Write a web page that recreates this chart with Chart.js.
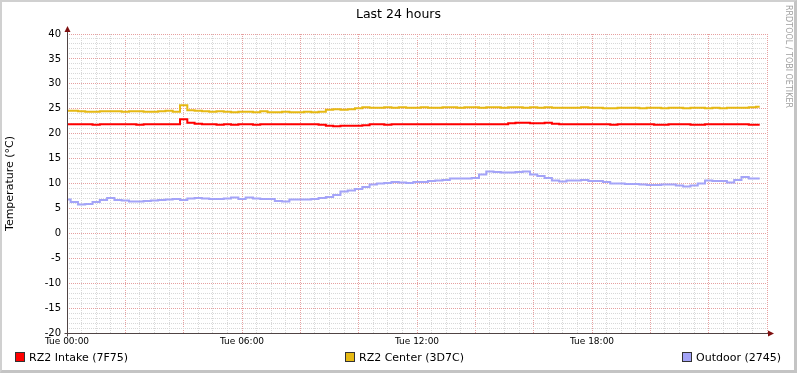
<!DOCTYPE html>
<html>
<head>
<meta charset="utf-8">
<script src="https://cdn.jsdelivr.net/npm/chart.js@4"></script>
<style>
  body { margin: 0; background: #fff; }
  #wrap { position: relative; width: 797px; height: 373px; background: #fff;
          font-family: "DejaVu Sans", sans-serif; color: #000; overflow: hidden; }
  #frame { position: absolute; left: 0; top: 0; width: 797px; height: 373px; box-sizing: border-box;
           border-top: 2px solid #d0d0d0; border-left: 2px solid #d0d0d0;
           border-right: 3px solid #c4c4c4; border-bottom: 3px solid #c4c4c4; pointer-events: none; }
  #title { position: absolute; left: 0; width: 797px; top: 6px; text-align: center; font-size: 12.5px; }
  #stamp { position: absolute; left: 784px; top: 5px; font-size: 8px; color: #a0a0a0;
           writing-mode: vertical-rl; white-space: nowrap; }
  .leg { position: absolute; top: 351px; font-size: 11px; white-space: nowrap; line-height: 14px; }
  .leg span { display: inline-block; width: 8px; height: 8px; border: 1px solid #333;
              vertical-align: -1px; margin-right: 4px; }
</style>
</head>
<body>
<div id="wrap">
  <canvas id="tempChart" width="797" height="373"></canvas>
  <div id="title">Last 24 hours</div>
  <div id="stamp">RRDTOOL / TOBI OETIKER</div>
  <div id="legend"></div>
  <div id="frame"></div>
</div>
<script>
// samples every 15 minutes, starting Tue 00:00
const stepHours = 0.25;

const seriesNames = ['RZ2 Intake (7F75)', 'RZ2 Center (3D7C)', 'Outdoor (2745)'];
const seriesColors = ['#ff0000', '#e6b914', '#a4a4f8'];

const intake = [
  21.9, 21.9, 21.9, 21.9, 21.8, 21.9, 21.9, 21.9, 21.9, 21.9, 21.8, 21.9, 21.9, 21.9, 21.9, 21.9,
  22.9, 22.2, 22.0, 21.9, 21.9, 21.8, 21.9, 21.8, 21.9, 21.9, 21.8, 21.9, 21.9, 21.9, 21.9, 21.9,
  21.9, 21.9, 21.9, 21.8, 21.6, 21.5, 21.6, 21.6, 21.6, 21.7, 21.9, 21.9, 21.8, 21.9, 21.9, 21.9,
  21.9, 21.9, 21.9, 21.9, 21.9, 21.9, 21.9, 21.9, 21.9, 21.9, 21.9, 21.9, 21.9, 22.1, 22.2, 22.2,
  22.1, 22.1, 22.2, 22.0, 21.9, 21.9, 21.9, 21.9, 21.9, 21.9, 21.9, 21.8, 21.9, 21.9, 21.9, 21.9,
  21.9, 21.8, 21.8, 21.9, 21.9, 21.9, 21.8, 21.8, 21.9, 21.9, 21.9, 21.9, 21.9, 21.9, 21.8, 21.8
];

const center = [
  24.6, 24.6, 24.5, 24.4, 24.4, 24.5, 24.5, 24.5, 24.4, 24.5, 24.5, 24.4, 24.4, 24.5, 24.6, 24.4,
  25.7, 24.7, 24.6, 24.5, 24.4, 24.5, 24.4, 24.3, 24.4, 24.4, 24.3, 24.5, 24.3, 24.3, 24.4, 24.3,
  24.3, 24.4, 24.3, 24.4, 24.8, 24.9, 24.8, 24.9, 25.1, 25.3, 25.2, 25.2, 25.3, 25.2, 25.3, 25.2,
  25.2, 25.3, 25.2, 25.2, 25.3, 25.3, 25.2, 25.3, 25.3, 25.2, 25.3, 25.3, 25.2, 25.3, 25.3, 25.2,
  25.3, 25.2, 25.3, 25.2, 25.2, 25.2, 25.2, 25.3, 25.2, 25.2, 25.1, 25.1, 25.2, 25.2, 25.2, 25.1,
  25.2, 25.2, 25.1, 25.2, 25.2, 25.1, 25.2, 25.2, 25.1, 25.2, 25.1, 25.2, 25.2, 25.2, 25.3, 25.4
];

const outdoor = [
  6.8, 6.3, 5.8, 5.9, 6.3, 6.7, 7.1, 6.7, 6.6, 6.4, 6.4, 6.5, 6.6, 6.7, 6.8, 6.9,
  6.7, 7.0, 7.1, 7.0, 6.9, 6.9, 7.0, 7.2, 6.9, 7.2, 7.0, 6.9, 6.9, 6.5, 6.4, 6.8,
  6.8, 6.8, 6.9, 7.1, 7.3, 7.7, 8.4, 8.6, 8.9, 9.3, 9.8, 10.0, 10.1, 10.3, 10.2, 10.1,
  10.3, 10.3, 10.5, 10.6, 10.7, 11.0, 11.0, 11.0, 11.1, 11.8, 12.4, 12.3, 12.2, 12.2, 12.3, 12.4,
  11.8, 11.5, 11.1, 10.6, 10.4, 10.6, 10.6, 10.7, 10.5, 10.5, 10.3, 10.0, 10.0, 9.9, 9.9, 9.8,
  9.7, 9.7, 9.8, 9.8, 9.6, 9.4, 9.6, 10.0, 10.6, 10.5, 10.5, 10.2, 10.7, 11.3, 11.0, 11.0
];

// x axis labels every 6 hours
const hourLabels = { 0: 'Tue 00:00', 6: 'Tue 06:00', 12: 'Tue 12:00', 18: 'Tue 18:00' };
const yLabelStep = 5;

const toPoints = arr => arr.map((v, i) => ({ x: i * stepHours, y: v }));

const gridMinor = '#d8d8d8';
const gridMajor = '#e6a0a0';

// axis lines with arrows, rrdtool style
const axisArrows = {
  id: 'axisArrows',
  afterDraw(chart) {
    const { ctx, chartArea: a } = chart;
    const x0 = Math.round(a.left) + 0.5;
    const y0 = Math.round(a.bottom) + 0.5;
    ctx.save();
    ctx.strokeStyle = '#504444';
    ctx.lineWidth = 1;
    ctx.beginPath();
    ctx.moveTo(x0, y0 + 3);
    ctx.lineTo(x0, a.top - 4);
    ctx.moveTo(x0 - 3, y0);
    ctx.lineTo(a.right + 3, y0);
    ctx.stroke();
    ctx.fillStyle = '#7f1010';
    ctx.beginPath();
    ctx.moveTo(x0, a.top - 8);
    ctx.lineTo(x0 - 3, a.top - 2);
    ctx.lineTo(x0 + 3, a.top - 2);
    ctx.closePath();
    ctx.fill();
    ctx.beginPath();
    ctx.moveTo(a.right + 7, y0);
    ctx.lineTo(a.right + 1, y0 - 3);
    ctx.lineTo(a.right + 1, y0 + 3);
    ctx.closePath();
    ctx.fill();
    ctx.restore();
  }
};

const config = {
  type: 'line',
  data: {
    datasets: [intake, center, outdoor].map((arr, k) => ({
      label: seriesNames[k],
      data: toPoints(arr),
      borderColor: seriesColors[k],
      backgroundColor: seriesColors[k],
      borderWidth: 2,
      pointRadius: 0,
      stepped: 'middle',
      fill: false
    }))
  },
  options: {
    responsive: false,
    animation: false,
    layout: { padding: { left: 0, top: 34, right: 30, bottom: 0 } },
    plugins: { legend: { display: false }, title: { display: false }, tooltip: { enabled: false } },
    scales: {
      x: {
        type: 'linear',
        min: 0,
        max: 24,
        afterFit: s => { s.height = 40; },
        border: { display: false, dash: [1, 1] },
        grid: {
          drawTicks: false,
          color: c => (c.tick && Math.round(c.tick.value * 2) % 4 === 0) ? gridMajor : gridMinor
        },
        ticks: {
          stepSize: 0.5,
          autoSkip: false,
          maxRotation: 0,
          padding: 3,
          color: '#000',
          font: { family: 'DejaVu Sans', size: 9 },
          callback: v => hourLabels[Math.round(v * 2) / 2] || ''
        }
      },
      y: {
        min: -20,
        max: 40,
        afterFit: s => { s.width = 67; },
        border: { display: false, dash: [1, 1] },
        grid: {
          drawTicks: false,
          color: c => (c.tick && Math.round(c.tick.value) % yLabelStep === 0) ? gridMajor : gridMinor
        },
        title: {
          display: true,
          text: 'Temperature (°C)',
          color: '#000',
          padding: { top: 4, bottom: 0 },
          font: { family: 'DejaVu Sans', size: 11 }
        },
        ticks: {
          stepSize: 1,
          autoSkip: false,
          padding: 6,
          color: '#000',
          font: { family: 'DejaVu Sans', size: 10 },
          callback: v => (Math.round(v) % yLabelStep === 0 ? String(Math.round(v)) : '')
        }
      }
    }
  },
  plugins: [axisArrows]
};

const tempChart = new Chart(document.getElementById('tempChart'), config);

// legend row at the bottom
const legendX = [15, 345, 682];
const legend = document.getElementById('legend');
seriesNames.forEach((name, k) => {
  const item = document.createElement('div');
  item.className = 'leg';
  item.style.left = legendX[k] + 'px';
  item.innerHTML = '<span style="background:' + seriesColors[k] + '"></span>' + name;
  legend.appendChild(item);
});
</script>
</body>
</html>
